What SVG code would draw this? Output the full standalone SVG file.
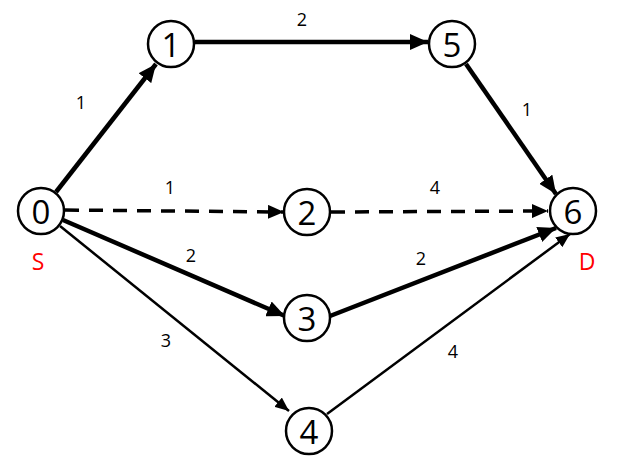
<svg xmlns="http://www.w3.org/2000/svg" width="628" height="464" viewBox="0 0 628 464">
<style>
.node circle{fill:#fff;stroke:#000;stroke-width:2.5}
.node text{font-family:"Open Sans","Liberation Sans",sans-serif;font-size:33px;text-anchor:middle;dominant-baseline:central}
.thick{stroke:#000;stroke-width:4.5;fill:none}
.dash{stroke:#000;stroke-width:3.5;fill:none;stroke-dasharray:14 10}
.thin{stroke:#000;stroke-width:2.5;fill:none}
.lbl{font-family:"Open Sans","Liberation Sans",sans-serif;font-size:18px;text-anchor:middle;fill:#000}
.sd{font-family:"Open Sans","Liberation Sans",sans-serif;font-size:23px;text-anchor:middle;fill:#ff0000}
</style>
<defs>
<marker id="ah" markerUnits="userSpaceOnUse" markerWidth="20" markerHeight="16" refX="18" refY="8" orient="auto"><path d="M0,0 L18,8 L0,16 Z" fill="#000"/></marker>
<marker id="ahm" markerUnits="userSpaceOnUse" markerWidth="18" markerHeight="14" refX="16" refY="7" orient="auto"><path d="M0,0 L16,7 L0,14 Z" fill="#000"/></marker>
<marker id="ahs" markerUnits="userSpaceOnUse" markerWidth="16" markerHeight="12" refX="14" refY="6" orient="auto"><path d="M0,0 L14,6 L0,12 Z" fill="#000"/></marker>
</defs>
<g id="connectors">
<line class="thick" x1="56" y1="192" x2="156" y2="64" marker-end="url(#ah)"/>
<line class="thick" x1="195" y1="42" x2="428" y2="42" marker-end="url(#ah)"/>
<line class="thick" x1="466" y1="64" x2="556" y2="194" marker-end="url(#ah)"/>
<line class="dash" x1="65" y1="210" x2="284" y2="212" marker-end="url(#ahm)"/>
<line class="dash" x1="331" y1="212" x2="548" y2="211" marker-end="url(#ahm)"/>
<line class="thick" x1="63" y1="220" x2="285" y2="316" marker-end="url(#ah)"/>
<line class="thick" x1="330" y1="316" x2="556" y2="228" marker-end="url(#ah)"/>
<line class="thin" x1="60" y1="226" x2="289" y2="411" marker-end="url(#ahs)"/>
<line class="thin" x1="327" y1="414" x2="570" y2="234" marker-end="url(#ahs)"/>
<text class="lbl" x="302" y="26">2</text>
<text class="lbl" x="81" y="109">1</text>
<text class="lbl" x="527" y="116">1</text>
<text class="lbl" x="170" y="194">1</text>
<text class="lbl" x="435" y="194">4</text>
<text class="lbl" x="191" y="262">2</text>
<text class="lbl" x="421" y="265">2</text>
<text class="lbl" x="166" y="347">3</text>
<text class="lbl" x="453" y="358">4</text>
</g>
<g id="node0" class="node"><circle cx="41" cy="211" r="23"/><text x="41" y="211">0</text></g>
<g id="node1" class="node"><circle cx="171" cy="44" r="23"/><text x="171" y="44">1</text></g>
<g id="node5" class="node"><circle cx="452" cy="44" r="23"/><text x="452" y="44">5</text></g>
<g id="node2" class="node"><circle cx="307" cy="212" r="23"/><text x="307" y="212">2</text></g>
<g id="node6" class="node"><circle cx="573" cy="211" r="23"/><text x="573" y="211">6</text></g>
<g id="node3" class="node"><circle cx="307" cy="318" r="23"/><text x="307" y="318">3</text></g>
<g id="node4" class="node"><circle cx="309" cy="431" r="23"/><text x="309" y="431">4</text></g>
<text class="sd" x="38" y="270">S</text>
<text class="sd" x="587" y="270">D</text>
</svg>
